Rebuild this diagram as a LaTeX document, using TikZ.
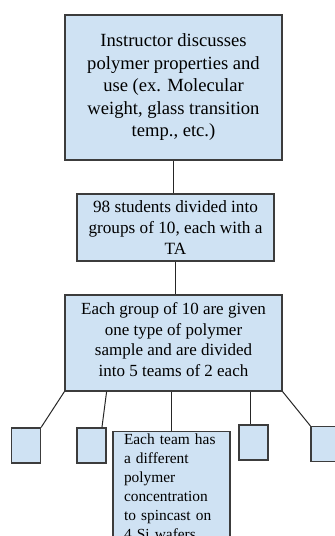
\documentclass[tikz,border=0pt]{standalone}
\usepackage{fontspec}
\setmainfont{Liberation Serif}
\definecolor{boxblue}{HTML}{CFE2F3}
\definecolor{boxline}{HTML}{3C3C3C}
\tikzset{
	flowbox/.style={draw=boxline, fill=boxblue, line width=1.2pt, inner sep=0pt, align=center},
	smallbox/.style={flowbox, minimum width=29pt, minimum height=35pt},
	link/.style={line width=1pt, color=black!85}
}
\begin{document}
\begin{tikzpicture}[x=1pt, y=-1pt]
				  \useasboundingbox (0,0) rectangle (335,536);
				  \clip (0,0) rectangle (335,536);
				  \node[flowbox, minimum width=217pt, minimum height=145pt, font=\fontsize{18.6}{22.5}\selectfont] (inst) at (173.5,87.5) {Instructor discusses\\polymer properties and\\use (ex. Molecular\\weight, glass transition\\temp., etc.)};
				  \node[flowbox, minimum width=197pt, minimum height=67pt, font=\fontsize{17.2}{20.7}\selectfont] (div) at (175.5,227.5) {98 students divided into\\groups of 10, each with a\\TA};
				  \node[flowbox, minimum width=217pt, minimum height=96pt, font=\fontsize{17}{20.5}\selectfont] (grp) at (173.5,343) {Each group of 10 are given\\one type of polymer\\sample and are divided\\into 5 teams of 2 each\\[-14pt]};
				  \node[smallbox] (a) at (26,445.5) {};
				  \node[smallbox] (b) at (91.5,445.5) {};
				  \node[flowbox, anchor=north, align=left, text width=95pt, inner xsep=11pt, inner ysep=2pt, font=\fontsize{15.4}{19}\selectfont] (c) at (171.5,431) {Each team has\\a different\\polymer\\concentration\\to spincast on\\4 Si wafers\\[8pt]};
				  \node[smallbox] (d) at (253.5,442.5) {};
				  \node[smallbox] (e) at (325.5,444) {};
				  \draw[link] (inst.south) -- (inst.south |- div.north);
				  \draw[link] (div.south) -- (div.south |- grp.north);
				  \draw[link] (grp.south west) -- (a.north east);
				  \draw[link] (grp.south -| b.north east) -- (b.60);
				  \draw[link] (grp.south -| c.north) -- (c.north);
				  \draw[link] (grp.south -| d.100) -- (d.100);
				  \draw[link] (grp.south east) -- (e.north west);
				\end{tikzpicture}
\end{document}
